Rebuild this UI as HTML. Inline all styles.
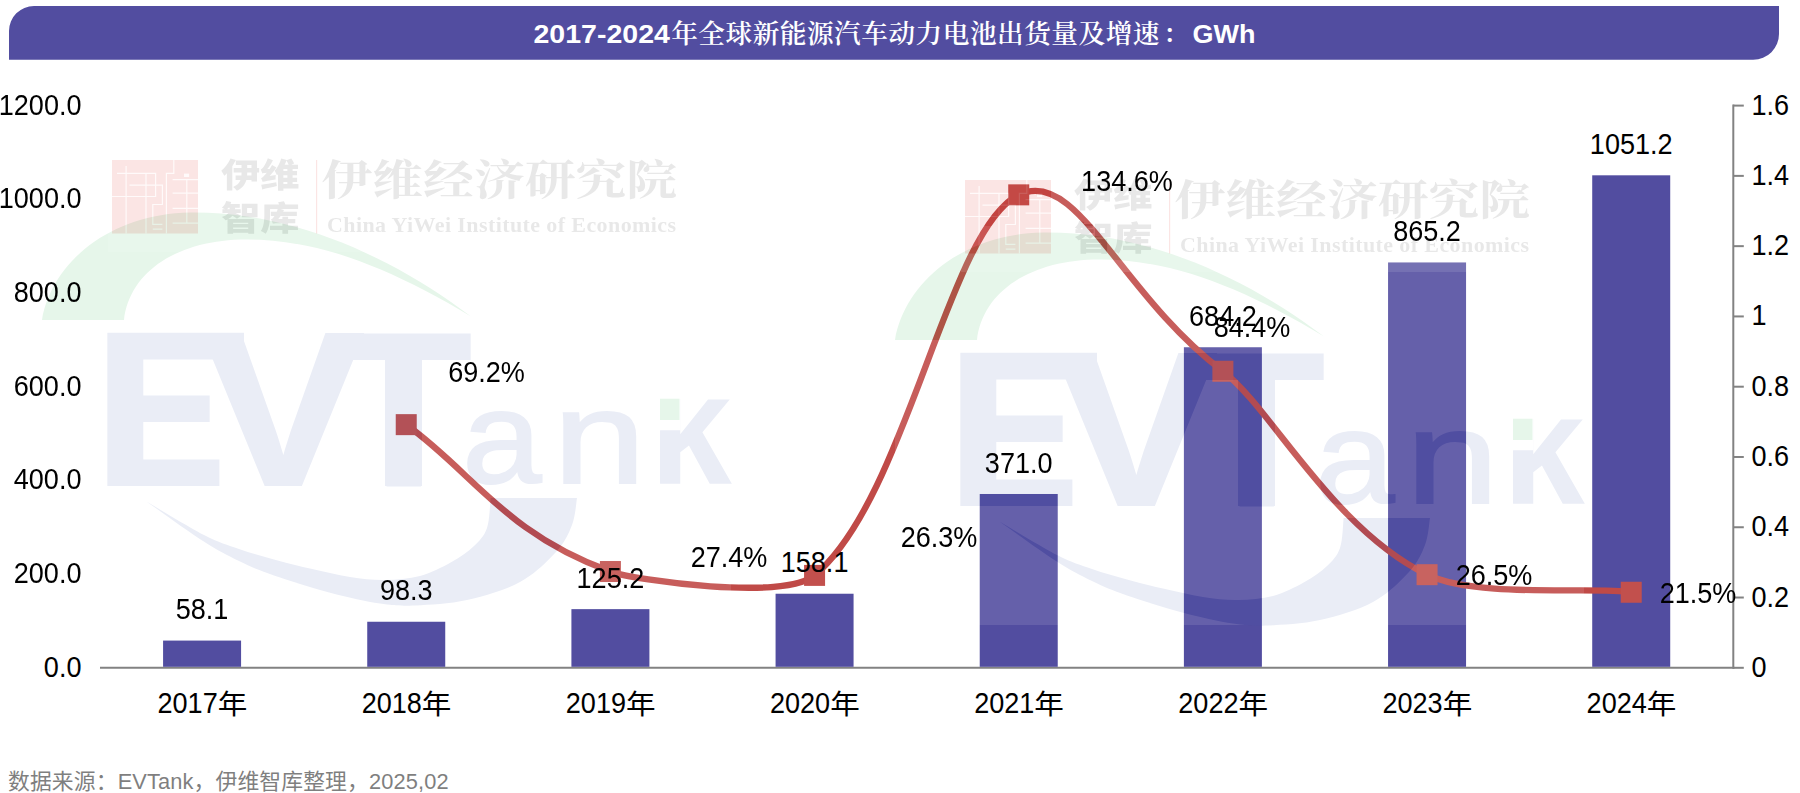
<!DOCTYPE html>
<html lang="zh"><head><meta charset="utf-8"><title>2017-2024年全球新能源汽车动力电池出货量及增速</title>
<style>html,body{margin:0;padding:0;background:#fff}body{width:1800px;height:793px;overflow:hidden}svg{display:block}text{white-space:pre}</style></head><body>
<svg width="1800" height="793" viewBox="0 0 1800 793">
<defs><clipPath id="kclip"><path d="M0 -46.2H29V-73.7H90V5H0Z"/></clipPath></defs>
<rect width="1800" height="793" fill="#fff"/>
<path d="M34 6 H1779 V34 A25.8 25.8 0 0 1 1753.2 59.8 H9 V31 A25 25 0 0 1 34 6 Z" fill="#524da0"/>
<g font-size="26.67" font-weight="bold" fill="#fff"><text x="533.5" y="42.5" font-family="Liberation Sans, sans-serif" textLength="136.5" lengthAdjust="spacingAndGlyphs">2017-2024</text><text x="671.2" y="42.5" font-family="Noto Serif CJK SC, serif" font-weight="600" style="letter-spacing:0.5px">年全球新能源汽车动力电池出货量及增速<tspan dx="3">：</tspan></text><text x="1192.5" y="42.5" font-family="Liberation Sans, sans-serif" textLength="63" lengthAdjust="spacingAndGlyphs">GWh</text></g>
<g stroke="#828282" stroke-width="2" fill="none">
<path d="M100.0 667.8 H1734.3"/>
<path d="M1733.3 104.6 V668.8"/>
<path d="M1733.3 667.80 H1743.8"/>
<path d="M1733.3 597.52 H1743.8"/>
<path d="M1733.3 527.25 H1743.8"/>
<path d="M1733.3 456.97 H1743.8"/>
<path d="M1733.3 386.70 H1743.8"/>
<path d="M1733.3 316.43 H1743.8"/>
<path d="M1733.3 246.15 H1743.8"/>
<path d="M1733.3 175.88 H1743.8"/>
<path d="M1733.3 105.60 H1743.8"/>
</g>
<rect x="163.08" y="640.58" width="78" height="26.22" fill="#524da0"/>
<rect x="367.24" y="621.75" width="78" height="45.05" fill="#524da0"/>
<rect x="571.41" y="609.14" width="78" height="57.66" fill="#524da0"/>
<rect x="775.57" y="593.73" width="78" height="73.07" fill="#524da0"/>
<rect x="979.73" y="493.99" width="78" height="172.81" fill="#524da0"/>
<rect x="1183.89" y="347.25" width="78" height="319.55" fill="#524da0"/>
<rect x="1388.06" y="262.45" width="78" height="404.35" fill="#524da0"/>
<rect x="1592.22" y="175.31" width="78" height="491.49" fill="#524da0"/>
<g><path d="M406.24 424.65 C473.0 472.4 504.6 533.3 610.41 571.52 C634.7 580.5 784.4 600.8 814.57 575.39 C907.1 498.1 947.3 229.6 1018.73 194.85 C1077.1 166.5 1118.0 291.5 1222.89 371.24 C1271.1 407.8 1332.4 528.6 1427.06 574.69 C1476.5 598.8 1597.5 586.3 1631.22 592.25" fill="none" stroke="#c04a47" stroke-width="6.3" stroke-linecap="round"/>
<rect x="395.74" y="414.15" width="21" height="21" fill="#c2504d"/>
<rect x="599.91" y="561.02" width="21" height="21" fill="#c2504d"/>
<rect x="804.07" y="564.89" width="21" height="21" fill="#c2504d"/>
<rect x="1008.23" y="184.35" width="21" height="21" fill="#c2504d"/>
<rect x="1212.39" y="360.74" width="21" height="21" fill="#c2504d"/>
<rect x="1416.56" y="564.19" width="21" height="21" fill="#c2504d"/>
<rect x="1620.72" y="581.75" width="21" height="21" fill="#c2504d"/>
</g>
<g transform="translate(0,0)">
<g opacity="0.11">
<rect x="42" y="206" width="689" height="399" fill="#fff"/>
<path d="M42 320 C52 262 110 214 190 212.5 C290 211 390 255 471 316.5 C390 268 320 240 248 239.5 C180 239 130 270 124 320 Z" fill="#1cad40"/>
<path d="M146.5 501.5 C155.9 508.1 187.6 531.1 203.0 541.0 C218.4 550.9 227.2 555.2 239.0 561.0 C250.8 566.8 258.7 570.2 274.0 575.5 C289.3 580.8 313.3 588.3 331.0 593.0 C348.7 597.7 366.0 601.4 380.0 603.5 C394.0 605.6 400.5 606.0 415.0 605.4 C429.5 604.8 449.5 603.9 467.0 600.0 C484.5 596.1 505.2 590.0 520.0 582.0 C534.8 574.0 547.3 561.5 556.0 552.0 C564.7 542.5 568.5 534.0 572.0 525.0 C575.5 516.0 576.2 502.5 577.0 498.0 L490.6 498 C490.0 503.0 489.8 520.0 487.0 528.0 C484.2 536.0 479.9 540.3 474.0 546.0 C468.1 551.7 460.5 557.0 451.5 562.0 C442.5 567.0 431.1 573.0 420.0 576.0 C408.9 579.0 396.7 579.8 385.0 580.0 C373.3 580.2 362.5 578.9 350.0 577.0 C337.5 575.1 322.7 571.4 310.0 568.5 C297.3 565.6 285.8 562.8 274.0 559.5 C262.2 556.2 250.7 553.1 239.0 549.0 C227.3 544.9 219.4 542.9 204.0 535.0 C188.6 527.1 156.1 507.1 146.5 501.5 Z" fill="#405bad"/>
<g fill="#405bad" stroke="#405bad" stroke-width="2.2" stroke-linejoin="miter" font-family="Liberation Sans, sans-serif" font-weight="bold" font-size="219">
<text x="0" y="0" transform="translate(95.8,484.9) scale(0.892,1)">E</text>
<text x="0" y="0" transform="translate(202,484.9) scale(1.11,1)">V</text>
<text x="0" y="0" transform="translate(335.4,484.9) scale(1.02,1)">T</text>
</g>
<path d="M107.4 332.7H244V359H143.3V486H107.4Z M385 340H422V486H385Z" fill="#405bad"/>
<g fill="#405bad" stroke="#405bad" stroke-width="2" font-family="Liberation Sans, sans-serif" font-size="131">
<text x="0" y="0" transform="translate(462.2,482.5) scale(1.087,1)">a</text>
<text x="0" y="0" transform="translate(552.9,482.5) scale(1.273,1)">n</text>
</g>
<text x="0" y="0" fill="#405bad" font-family="Liberation Sans, sans-serif" font-weight="bold" font-size="139" transform="translate(649.8,483.5) scale(1.06,1.151)" clip-path="url(#kclip)">k</text>
<rect x="660" y="398.7" width="19.5" height="21.3" fill="#fff"/>
<rect x="660" y="398.7" width="19.5" height="21.3" fill="#1cad40"/>
</g>
<g opacity="0.11">
<rect x="108" y="156" width="574" height="96" fill="#fff"/>
<rect x="112" y="160" width="86" height="73.5" fill="#dc140a"/>
<g stroke="#fff" stroke-width="1.2" fill="none" opacity="0.8"><path d="M117 173.3H155.6V196.5H112M129.5 185.2H162.4V204.5H152.8V224.3H162.4M152.8 229.1H162.4M126.1 166V233.5M146 173.3V233.5M173.8 160V173.3H166.4V233.5M172.6 179.7H198M172.6 193.1H198M172.6 208.4H198M172.6 223.2H198M186.8 179.7V223.2"/><rect x="184" y="173.6" width="5.1" height="3.4" fill="#fff" stroke="none"/></g>
<g fill="#2e2e2e">
<text x="0" y="0" font-size="33" font-weight="900" font-family="Noto Sans CJK SC, sans-serif" transform="translate(221,187.3) scale(1.19,1)">伊维</text>
<text x="0" y="0" font-size="33" font-weight="900" font-family="Noto Sans CJK SC, sans-serif" transform="translate(221,230.3) scale(1.19,1)">智库</text>
<text x="0" y="0" font-size="46" font-weight="700" font-family="Noto Serif CJK SC, serif" transform="translate(321.5,195) scale(1.105,0.92)">伊维经济研究院</text>
<text x="327" y="231.5" font-size="22" font-weight="bold" font-family="Liberation Serif, serif" textLength="349" lengthAdjust="spacing">China YiWei Institute of Economics</text>
</g>
<rect x="316" y="160" width="1.2" height="73.5" fill="#dc140a"/>
</g>
</g>
<g transform="translate(853,20)">
<g opacity="0.11">
<rect x="42" y="206" width="689" height="399" fill="#fff"/>
<path d="M42 320 C52 262 110 214 190 212.5 C290 211 390 255 471 316.5 C390 268 320 240 248 239.5 C180 239 130 270 124 320 Z" fill="#1cad40"/>
<path d="M146.5 501.5 C155.9 508.1 187.6 531.1 203.0 541.0 C218.4 550.9 227.2 555.2 239.0 561.0 C250.8 566.8 258.7 570.2 274.0 575.5 C289.3 580.8 313.3 588.3 331.0 593.0 C348.7 597.7 366.0 601.4 380.0 603.5 C394.0 605.6 400.5 606.0 415.0 605.4 C429.5 604.8 449.5 603.9 467.0 600.0 C484.5 596.1 505.2 590.0 520.0 582.0 C534.8 574.0 547.3 561.5 556.0 552.0 C564.7 542.5 568.5 534.0 572.0 525.0 C575.5 516.0 576.2 502.5 577.0 498.0 L490.6 498 C490.0 503.0 489.8 520.0 487.0 528.0 C484.2 536.0 479.9 540.3 474.0 546.0 C468.1 551.7 460.5 557.0 451.5 562.0 C442.5 567.0 431.1 573.0 420.0 576.0 C408.9 579.0 396.7 579.8 385.0 580.0 C373.3 580.2 362.5 578.9 350.0 577.0 C337.5 575.1 322.7 571.4 310.0 568.5 C297.3 565.6 285.8 562.8 274.0 559.5 C262.2 556.2 250.7 553.1 239.0 549.0 C227.3 544.9 219.4 542.9 204.0 535.0 C188.6 527.1 156.1 507.1 146.5 501.5 Z" fill="#405bad"/>
<g fill="#405bad" stroke="#405bad" stroke-width="2.2" stroke-linejoin="miter" font-family="Liberation Sans, sans-serif" font-weight="bold" font-size="219">
<text x="0" y="0" transform="translate(95.8,484.9) scale(0.892,1)">E</text>
<text x="0" y="0" transform="translate(202,484.9) scale(1.11,1)">V</text>
<text x="0" y="0" transform="translate(335.4,484.9) scale(1.02,1)">T</text>
</g>
<path d="M107.4 332.7H244V359H143.3V486H107.4Z M385 340H422V486H385Z" fill="#405bad"/>
<g fill="#405bad" stroke="#405bad" stroke-width="2" font-family="Liberation Sans, sans-serif" font-size="131">
<text x="0" y="0" transform="translate(462.2,482.5) scale(1.087,1)">a</text>
<text x="0" y="0" transform="translate(552.9,482.5) scale(1.273,1)">n</text>
</g>
<text x="0" y="0" fill="#405bad" font-family="Liberation Sans, sans-serif" font-weight="bold" font-size="139" transform="translate(649.8,483.5) scale(1.06,1.151)" clip-path="url(#kclip)">k</text>
<rect x="660" y="398.7" width="19.5" height="21.3" fill="#fff"/>
<rect x="660" y="398.7" width="19.5" height="21.3" fill="#1cad40"/>
</g>
<g opacity="0.11">
<rect x="108" y="156" width="574" height="96" fill="#fff"/>
<rect x="112" y="160" width="86" height="73.5" fill="#dc140a"/>
<g stroke="#fff" stroke-width="1.2" fill="none" opacity="0.8"><path d="M117 173.3H155.6V196.5H112M129.5 185.2H162.4V204.5H152.8V224.3H162.4M152.8 229.1H162.4M126.1 166V233.5M146 173.3V233.5M173.8 160V173.3H166.4V233.5M172.6 179.7H198M172.6 193.1H198M172.6 208.4H198M172.6 223.2H198M186.8 179.7V223.2"/><rect x="184" y="173.6" width="5.1" height="3.4" fill="#fff" stroke="none"/></g>
<g fill="#2e2e2e">
<text x="0" y="0" font-size="33" font-weight="900" font-family="Noto Sans CJK SC, sans-serif" transform="translate(221,187.3) scale(1.19,1)">伊维</text>
<text x="0" y="0" font-size="33" font-weight="900" font-family="Noto Sans CJK SC, sans-serif" transform="translate(221,230.3) scale(1.19,1)">智库</text>
<text x="0" y="0" font-size="46" font-weight="700" font-family="Noto Serif CJK SC, serif" transform="translate(321.5,195) scale(1.105,0.92)">伊维经济研究院</text>
<text x="327" y="231.5" font-size="22" font-weight="bold" font-family="Liberation Serif, serif" textLength="349" lengthAdjust="spacing">China YiWei Institute of Economics</text>
</g>
<rect x="316" y="160" width="1.2" height="73.5" fill="#dc140a"/>
</g>
</g>
<g font-family="Liberation Sans, Noto Sans CJK SC, sans-serif" font-size="26.67" fill="#000">
<text transform="translate(81.50,676.80) scale(1.015,1.1)" text-anchor="end">0.0</text>
<text transform="translate(81.50,583.10) scale(1.015,1.1)" text-anchor="end">200.0</text>
<text transform="translate(81.50,489.40) scale(1.015,1.1)" text-anchor="end">400.0</text>
<text transform="translate(81.50,395.70) scale(1.015,1.1)" text-anchor="end">600.0</text>
<text transform="translate(81.50,302.00) scale(1.015,1.1)" text-anchor="end">800.0</text>
<text transform="translate(81.50,208.30) scale(1.015,1.1)" text-anchor="end">1000.0</text>
<text transform="translate(81.50,114.60) scale(1.015,1.1)" text-anchor="end">1200.0</text>
<text transform="translate(1751.50,676.80) scale(1.015,1.1)" text-anchor="start">0</text>
<text transform="translate(1751.50,606.52) scale(1.015,1.1)" text-anchor="start">0.2</text>
<text transform="translate(1751.50,536.25) scale(1.015,1.1)" text-anchor="start">0.4</text>
<text transform="translate(1751.50,465.97) scale(1.015,1.1)" text-anchor="start">0.6</text>
<text transform="translate(1751.50,395.70) scale(1.015,1.1)" text-anchor="start">0.8</text>
<text transform="translate(1751.50,325.43) scale(1.015,1.1)" text-anchor="start">1</text>
<text transform="translate(1751.50,255.15) scale(1.015,1.1)" text-anchor="start">1.2</text>
<text transform="translate(1751.50,184.88) scale(1.015,1.1)" text-anchor="start">1.4</text>
<text transform="translate(1751.50,114.60) scale(1.015,1.1)" text-anchor="start">1.6</text>
<text transform="translate(157.48,712.80) scale(1.015,1.1)" text-anchor="start">2017</text>
<text transform="translate(217.68,713.8) scale(1.11,1.035)">年</text>
<text transform="translate(361.64,712.80) scale(1.015,1.1)" text-anchor="start">2018</text>
<text transform="translate(421.84,713.8) scale(1.11,1.035)">年</text>
<text transform="translate(565.81,712.80) scale(1.015,1.1)" text-anchor="start">2019</text>
<text transform="translate(626.01,713.8) scale(1.11,1.035)">年</text>
<text transform="translate(769.97,712.80) scale(1.015,1.1)" text-anchor="start">2020</text>
<text transform="translate(830.17,713.8) scale(1.11,1.035)">年</text>
<text transform="translate(974.13,712.80) scale(1.015,1.1)" text-anchor="start">2021</text>
<text transform="translate(1034.33,713.8) scale(1.11,1.035)">年</text>
<text transform="translate(1178.29,712.80) scale(1.015,1.1)" text-anchor="start">2022</text>
<text transform="translate(1238.49,713.8) scale(1.11,1.035)">年</text>
<text transform="translate(1382.46,712.80) scale(1.015,1.1)" text-anchor="start">2023</text>
<text transform="translate(1442.66,713.8) scale(1.11,1.035)">年</text>
<text transform="translate(1586.62,712.80) scale(1.015,1.1)" text-anchor="start">2024</text>
<text transform="translate(1646.82,713.8) scale(1.11,1.035)">年</text>
<text transform="translate(202.08,619.18) scale(1.015,1.1)" text-anchor="middle">58.1</text>
<text transform="translate(406.24,600.35) scale(1.015,1.1)" text-anchor="middle">98.3</text>
<text transform="translate(610.41,587.74) scale(1.015,1.1)" text-anchor="middle">125.2</text>
<text transform="translate(814.57,572.33) scale(1.015,1.1)" text-anchor="middle">158.1</text>
<text transform="translate(1018.73,472.59) scale(1.015,1.1)" text-anchor="middle">371.0</text>
<text transform="translate(1222.89,325.85) scale(1.015,1.1)" text-anchor="middle">684.2</text>
<text transform="translate(1427.06,241.05) scale(1.015,1.1)" text-anchor="middle">865.2</text>
<text transform="translate(1631.22,153.91) scale(1.015,1.1)" text-anchor="middle">1051.2</text>
<text transform="translate(486.50,382.50) scale(1.015,1.1)" text-anchor="middle">69.2%</text>
<text transform="translate(729.00,567.00) scale(1.015,1.1)" text-anchor="middle">27.4%</text>
<text transform="translate(939.00,547.00) scale(1.015,1.1)" text-anchor="middle">26.3%</text>
<text transform="translate(1127.00,190.50) scale(1.015,1.1)" text-anchor="middle">134.6%</text>
<text transform="translate(1252.00,336.50) scale(1.015,1.1)" text-anchor="middle">84.4%</text>
<text transform="translate(1494.00,584.50) scale(1.015,1.1)" text-anchor="middle">26.5%</text>
<text transform="translate(1698.00,602.50) scale(1.015,1.1)" text-anchor="middle">21.5%</text>
</g>
<text x="8" y="788.6" font-family="Liberation Sans, Noto Sans CJK SC, sans-serif" font-size="21.8" style="letter-spacing:0.13px" fill="#7f7f7f">数据来源：EVTank，伊维智库整理，2025,02</text>
</svg></body></html>
